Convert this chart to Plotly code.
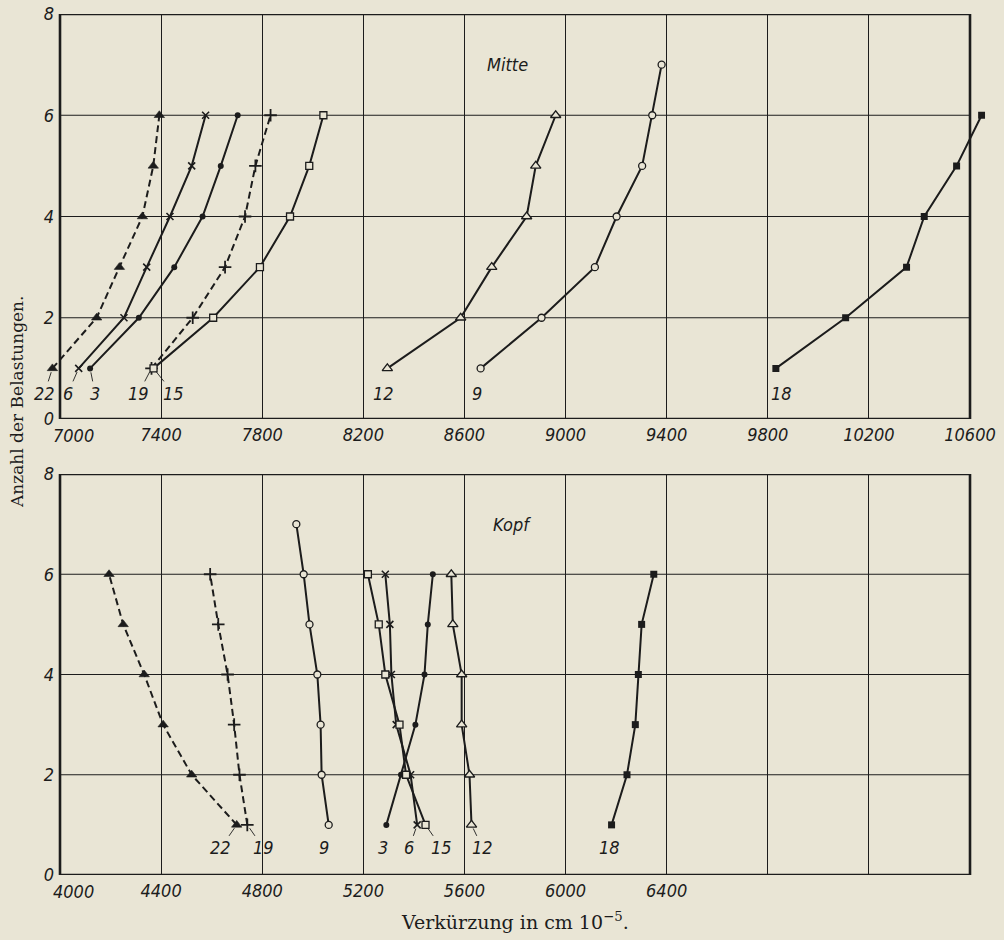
import plotly.graph_objects as go

# ---- data: shortening (cm 1e-5) per number of load applications ----
loads = [1, 2, 3, 4, 5, 6]
loads_7 = [1, 2, 3, 4, 5, 6, 7]

# Mitte (middle section)
mitte_22 = [6970, 7145, 7235, 7326, 7369, 7393]
mitte_6 = [7074, 7253, 7343, 7435, 7521, 7576]
mitte_3 = [7119, 7312, 7452, 7564, 7636, 7703]
mitte_19 = [7362, 7525, 7653, 7732, 7773, 7833]
mitte_15 = [7370, 7606, 7791, 7910, 7986, 8042]
mitte_12 = [8295, 8585, 8708, 8846, 8882, 8961]
mitte_9 = [8664, 8905, 9116, 9202, 9303, 9343, 9380]
mitte_18 = [9832, 10108, 10349, 10419, 10547, 10646]

# Kopf (head section)
kopf_22 = [4699, 4521, 4408, 4333, 4250, 4194]
kopf_19 = [4741, 4710, 4689, 4663, 4626, 4594]
kopf_9 = [5063, 5035, 5031, 5018, 4987, 4964, 4935]
kopf_3 = [5291, 5349, 5406, 5442, 5455, 5475]
kopf_6 = [5413, 5387, 5330, 5311, 5305, 5287]
kopf_15 = [5446, 5369, 5343, 5287, 5261, 5218]
kopf_12 = [5628, 5620, 5589, 5589, 5554, 5548]
kopf_18 = [6182, 6243, 6276, 6288, 6301, 6349]

mitte_ticks = list(range(7000, 10601, 400))
kopf_ticks = list(range(4000, 7601, 400))
kopf_last_labelled = 6400
y_ticks = [0, 2, 4, 6, 8]

# ---- styling ----
BG = "#e9e5d5"
INK = "#1c1c1c"
W, H = 1004, 940
DASH = "7px,4px"

TICK_FONT = dict(family="DejaVu Sans Condensed, DejaVu Sans", size=18,
                 color=INK, style="italic")
LABEL_FONT = dict(family="DejaVu Sans Condensed, DejaVu Sans", size=18,
                  color=INK, style="italic")
SERIF = dict(family="DejaVu Serif, Liberation Serif, serif", size=17, color=INK)

styles = {
    "22": dict(symbol="triangle-up", color=INK, lw=0.6, size=9, dash=DASH),
    "6": dict(symbol="x-thin", color=INK, lw=1.6, size=7, dash="solid"),
    "3": dict(symbol="circle", color=INK, lw=0, size=6, dash="solid"),
    "19": dict(symbol="cross-thin", color=INK, lw=1.8, size=9, dash=DASH),
    "15": dict(symbol="square", color=BG, lw=1.3, size=7, dash="solid"),
    "12": dict(symbol="triangle-up", color=BG, lw=1.3, size=9, dash="solid"),
    "9": dict(symbol="circle", color=BG, lw=1.3, size=7, dash="solid"),
    "18": dict(symbol="square", color=INK, lw=0, size=7, dash="solid"),
}

mitte_series = [("22", mitte_22, loads), ("6", mitte_6, loads), ("3", mitte_3, loads),
                ("19", mitte_19, loads), ("15", mitte_15, loads), ("12", mitte_12, loads),
                ("9", mitte_9, loads_7), ("18", mitte_18, loads)]
kopf_series = [("22", kopf_22, loads), ("19", kopf_19, loads), ("9", kopf_9, loads_7),
               ("3", kopf_3, loads), ("6", kopf_6, loads), ("15", kopf_15, loads),
               ("12", kopf_12, loads), ("18", kopf_18, loads)]

# label offsets (pixels from the first point) and whether a leader line is drawn
mitte_label_pos = {"22": (-8, 25, True), "6": (-11, 25, True), "3": (5, 25, True),
                   "19": (-13, 25, True), "15": (20, 25, True), "12": (-4, 25, False),
                   "9": (-4, 25, False), "18": (6, 25, False)}
kopf_label_pos = {"22": (-16, 23, True), "19": (16, 23, True), "9": (-5, 23, False),
                  "3": (-3, 23, False), "6": (-8, 23, True), "15": (16, 23, True),
                  "12": (11, 23, True), "18": (-2, 23, False)}

# frame of each panel in pixels; the x axes run a little beyond the frame so
# that points lying just outside it are still drawn
FRAME_L, FRAME_R = 60, 970
SPAN = 3600
PAD = 60
px_per_unit = (FRAME_R - FRAME_L) / SPAN
x_dom = [(FRAME_L - PAD * px_per_unit) / W, (FRAME_R + PAD * px_per_unit) / W]


def tick_labels(vals, last=None):
    # the first label is drawn separately, set off to the right of the corner
    out = [""]
    for v in vals[1:]:
        out.append("" if (last is not None and v > last) else str(v))
    return out


fig = go.Figure()
annotations = []
shapes = []


def add_panel(series, label_pos, xref, yref, xticks, yticks):
    x0 = xticks[0]
    x1 = x0 + SPAN
    for name, xs, ys in series:
        st = styles[name]
        fig.add_trace(go.Scatter(
            x=xs, y=ys, mode="lines+markers", xaxis=xref, yaxis=yref,
            showlegend=False, hoverinfo="x+y",
            line=dict(color=INK, width=2, dash=st["dash"]),
            marker=dict(symbol=st["symbol"], size=st["size"], color=st["color"],
                        line=dict(color=INK, width=st["lw"])),
        ))
        ax, ay, leader = label_pos[name]
        annotations.append(dict(
            x=xs[0], y=ys[0], xref=xref, yref=yref, text=name, font=LABEL_FONT,
            showarrow=True, arrowhead=0, arrowwidth=0.9, standoff=4,
            arrowcolor=INK if leader else "rgba(0,0,0,0)", ax=ax, ay=ay,
        ))
    # first x tick label, shifted right of the corner
    annotations.append(dict(x=x0, y=yticks[0], xref=xref, yref=yref, text=str(x0),
                            xanchor="center", yanchor="top", xshift=13, yshift=-4,
                            showarrow=False, font=TICK_FONT))
    # horizontal grid lines, limited to the frame
    for yv in yticks[1:-1]:
        shapes.append(dict(type="line", xref=xref, yref=yref, x0=x0, x1=x1, y0=yv, y1=yv,
                           line=dict(color=INK, width=1.2), layer="below"))
    # heavy frame
    shapes.append(dict(type="rect", xref=xref, yref=yref, x0=x0, x1=x1,
                       y0=yticks[0], y1=yticks[-1], line=dict(color=INK, width=2.6),
                       layer="below"))


add_panel(mitte_series, mitte_label_pos, "x", "y", mitte_ticks, y_ticks)
add_panel(kopf_series, kopf_label_pos, "x2", "y2", kopf_ticks, y_ticks)

annotations += [
    dict(x=8772, y=7.0, xref="x", yref="y", text="Mitte", showarrow=False, font=LABEL_FONT),
    dict(x=5788, y=7.0, xref="x2", yref="y2", text="Kopf", showarrow=False, font=LABEL_FONT),
    dict(x=17 / W, y=1 - 402 / H, xref="paper", yref="paper", xanchor="center",
         yanchor="middle", text="Anzahl der Belastungen.", textangle=-90,
         showarrow=False, font=SERIF),
    dict(x=515 / W, y=1 - 921 / H, xref="paper", yref="paper", xanchor="center",
         yanchor="middle", text="Verkürzung in cm 10<sup>−5</sup>.", showarrow=False,
         font=dict(SERIF, size=19)),
]

x_common = dict(showgrid=True, gridcolor=INK, gridwidth=1.2, showline=False, ticks="",
                zeroline=False, tickfont=TICK_FONT, fixedrange=True, domain=x_dom,
                ticklabelstandoff=3)
y_common = dict(showgrid=False, showline=False, ticks="", zeroline=False,
                tickfont=TICK_FONT, fixedrange=True, range=[0, 8], tickvals=y_ticks,
                anchor="free", position=FRAME_L / W, ticklabelstandoff=6)

fig.update_layout(
    width=W, height=H, margin=dict(l=0, r=0, t=0, b=0, autoexpand=False),
    paper_bgcolor=BG, plot_bgcolor=BG,
    xaxis=dict(x_common, range=[mitte_ticks[0] - PAD, mitte_ticks[-1] + PAD], anchor="y",
               tickvals=mitte_ticks, ticktext=tick_labels(mitte_ticks)),
    yaxis=dict(y_common, domain=[1 - 419 / H, 1 - 14 / H]),
    xaxis2=dict(x_common, range=[kopf_ticks[0] - PAD, kopf_ticks[-1] + PAD], anchor="y2",
                tickvals=kopf_ticks, ticktext=tick_labels(kopf_ticks, kopf_last_labelled)),
    yaxis2=dict(y_common, domain=[1 - 875 / H, 1 - 474 / H]),
    annotations=annotations,
    shapes=shapes,
)

fig.write_html("out.html")
